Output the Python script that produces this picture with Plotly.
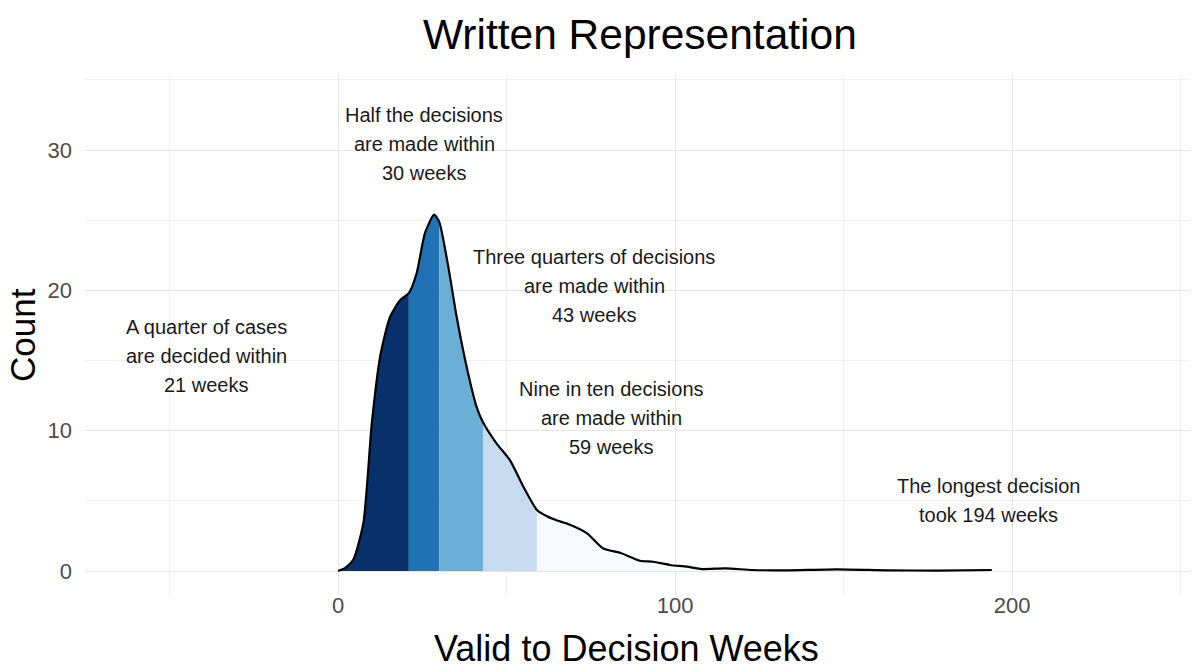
import plotly.graph_objects as go

# Density curve (weeks, count)
density_x = [0, 2, 4.5, 7.5, 10, 12.5, 15.4, 18.4, 21, 23.3, 25.8, 28.5, 30, 32.7, 35.2,
             38.2, 41.1, 43, 47, 51, 55, 59, 62, 65, 68.8, 73.8, 78.7, 83.7, 89.6, 93.5,
             98.5, 103.5, 108, 115, 123, 133, 148, 163, 177.6, 194]
density_y = [0, 0.2, 0.8, 3.4, 10.5, 15.3, 18.1, 19.3, 19.8, 21.2, 24.1, 25.4, 24.9, 21.7, 18.1,
             14.5, 11.7, 10.6, 9.1, 7.9, 6.0, 4.35, 3.9, 3.6, 3.3, 2.7, 1.6, 1.3, 0.73, 0.66,
             0.43, 0.31, 0.14, 0.19, 0.07, 0.05, 0.12, 0.05, 0.03, 0.07]

# Quantile boundaries (weeks)
bounds = [0, 21, 30, 43, 59, 194]
seg_colors = ["#08306B", "#2171B5", "#6BAED6", "#C6DBEF", "#F7FBFF"]

annot_x = [-39, 25.5, 76, 81, 193]
annot_y = [15.3, 30.4, 20.3, 10.9, 5.0]
annot_lines = [
    ["A quarter of cases", "are decided within", "21 weeks"],
    ["Half the decisions", "are made within", "30 weeks"],
    ["Three quarters of decisions", "are made within", "43 weeks"],
    ["Nine in ten decisions", "are made within", "59 weeks"],
    ["The longest decision", "took 194 weeks"],
]

FONT = "Liberation Sans, Arial, sans-serif"
fig = go.Figure()

for i in range(len(bounds) - 1):
    lo, hi = bounds[i], bounds[i + 1]
    xs = [x for x in density_x if lo <= x <= hi]
    ys = [y for x, y in zip(density_x, density_y) if lo <= x <= hi]
    fig.add_trace(go.Scatter(
        x=xs, y=ys, mode="lines", fill="tozeroy", fillcolor=seg_colors[i],
        line=dict(width=0, color=seg_colors[i], shape="spline", smoothing=0.6),
        hoverinfo="skip", showlegend=False))

fig.add_trace(go.Scatter(
    x=density_x, y=density_y, mode="lines",
    line=dict(color="black", width=2.2, shape="spline", smoothing=0.6),
    showlegend=False))

LINE_H = 29
for ax, ay, lines in zip(annot_x, annot_y, annot_lines):
    n = len(lines)
    for j, t in enumerate(lines):
        shift = ((n - 1) / 2 - j) * LINE_H
        fig.add_annotation(x=ax, y=ay, text=t, showarrow=False, yshift=shift,
                           font=dict(family=FONT, size=20, color="#1a1a1a"),
                           xanchor="center", yanchor="middle")

# Axis titles
fig.add_annotation(text="Valid to Decision Weeks", xref="paper", yref="paper",
                   x=0.488, y=-0.102, xanchor="center", yanchor="middle", showarrow=False,
                   font=dict(family=FONT, size=36, color="black"))
fig.add_annotation(text="Count", xref="paper", yref="paper", textangle=-90,
                   x=-0.0568, y=0.5, xanchor="center", yanchor="middle", showarrow=False,
                   font=dict(family=FONT, size=35, color="black"))

# The page body adds an 8px offset, so the figure is 8px smaller than the window
fig.update_layout(
    width=1190, height=658,
    paper_bgcolor="white", plot_bgcolor="white",
    margin=dict(l=77, r=3, t=67, b=71),
    title=dict(text="Written Representation", x=0.531, xanchor="center", y=0.9596, yanchor="middle",
               font=dict(family=FONT, size=42.5, color="black")),
    font=dict(family=FONT),
    xaxis=dict(range=[-75.1, 254.3], tickvals=[0, 100, 200], showline=False, zeroline=False,
               automargin=False,
               gridcolor="#e6e6e6", gridwidth=1.3,
               minor=dict(tickvals=[-50, 50, 150, 250], showgrid=True, gridcolor="#efefef", gridwidth=1),
               tickfont=dict(size=22, color="#4d4d4d"), ticklabelstandoff=-5),
    yaxis=dict(range=[-1.71, 35.35], tickvals=[0, 10, 20, 30], showline=False, zeroline=False,
               automargin=False,
               gridcolor="#e6e6e6", gridwidth=1.3,
               minor=dict(tickvals=[5, 15, 25, 35], showgrid=True, gridcolor="#efefef", gridwidth=1),
               tickfont=dict(size=22, color="#4d4d4d"), ticklabelstandoff=12),
)

fig.write_html("out.html")
